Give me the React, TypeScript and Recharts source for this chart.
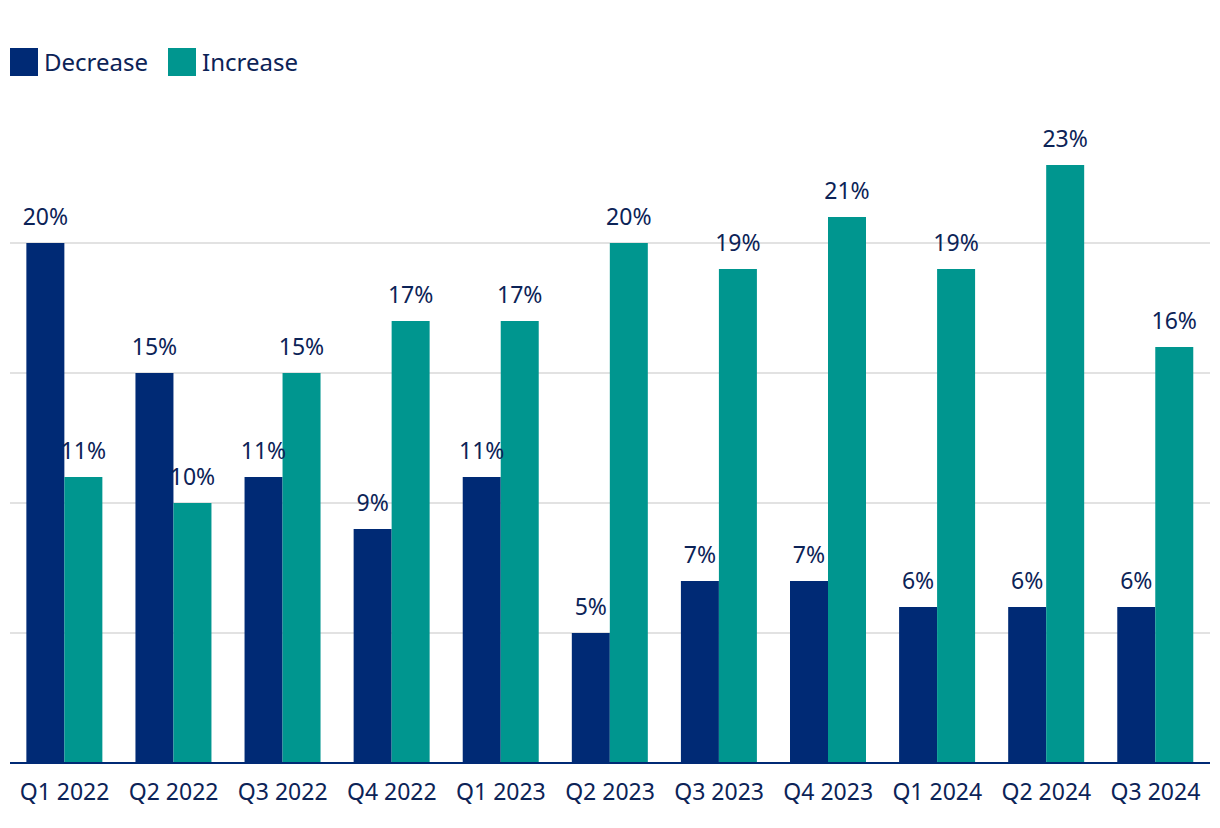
import { BarChart, Bar, XAxis, YAxis, CartesianGrid, LabelList } from 'recharts'

const quarters = [
  'Q1 2022', 'Q2 2022', 'Q3 2022', 'Q4 2022',
  'Q1 2023', 'Q2 2023', 'Q3 2023', 'Q4 2023',
  'Q1 2024', 'Q2 2024', 'Q3 2024',
]
const decrease = [20, 15, 11, 9, 11, 5, 7, 7, 6, 6, 6]
const increase = [11, 10, 15, 17, 17, 20, 19, 21, 19, 23, 16]
const gridTicks = [0, 5, 10, 15, 20]

const NAVY = '#002a75'
const TEAL = '#00968f'
const TEXT = '#0c2357'
const FONT = '"Noto Sans", "Open Sans", sans-serif'

const series = [
  { key: 'decrease', name: 'Decrease', color: NAVY },
  { key: 'increase', name: 'Increase', color: TEAL },
]

const data = quarters.map((q, i) => ({
  quarter: q,
  decrease: decrease[i],
  increase: increase[i],
}))

const pct = (v: unknown) => `${v}%`

export default function App() {
  return (
    <div style={{ position: 'absolute', left: 0, top: 0, width: 1220, height: 828, background: '#fff', fontFamily: FONT }}>
      <div style={{ position: 'absolute', left: 10, top: 48, display: 'flex', alignItems: 'center' }}>
        {series.map((s) => (
          <div key={s.key} style={{ display: 'flex', alignItems: 'center', marginRight: 20 }}>
            <span style={{ display: 'inline-block', width: 28, height: 28, background: s.color, marginRight: 6 }} />
            <span style={{ fontSize: 24, color: TEXT, lineHeight: '28px' }}>{s.name}</span>
          </div>
        ))}
      </div>
      <BarChart
        width={1220}
        height={828}
        data={data}
        margin={{ top: 113, right: 10, left: 10, bottom: 25 }}
        barCategoryGap="15%"
        barGap={0}
        style={{ fontFamily: FONT }}
      >
        <CartesianGrid
          horizontal
          vertical={false}
          horizontalValues={gridTicks}
          stroke="#d9d9d9"
          strokeWidth={1.5}
        />
        <YAxis hide domain={[0, 25]} ticks={gridTicks} />
        <XAxis
          dataKey="quarter"
          height={40}
          tickLine={false}
          tickSize={0}
          tickMargin={21}
          interval={0}
          axisLine={{ stroke: NAVY, strokeWidth: 2 }}
          tick={{ fill: TEXT, fontSize: 23, fontFamily: FONT }}
        />
        {series.map((s) => (
          <Bar key={s.key} dataKey={s.key} name={s.name} fill={s.color} isAnimationActive={false}>
            <LabelList
              dataKey={s.key}
              position="top"
              offset={18}
              formatter={pct}
              fill={TEXT}
              fontSize={23}
              fontFamily={FONT}
            />
          </Bar>
        ))}
      </BarChart>
    </div>
  )
}
